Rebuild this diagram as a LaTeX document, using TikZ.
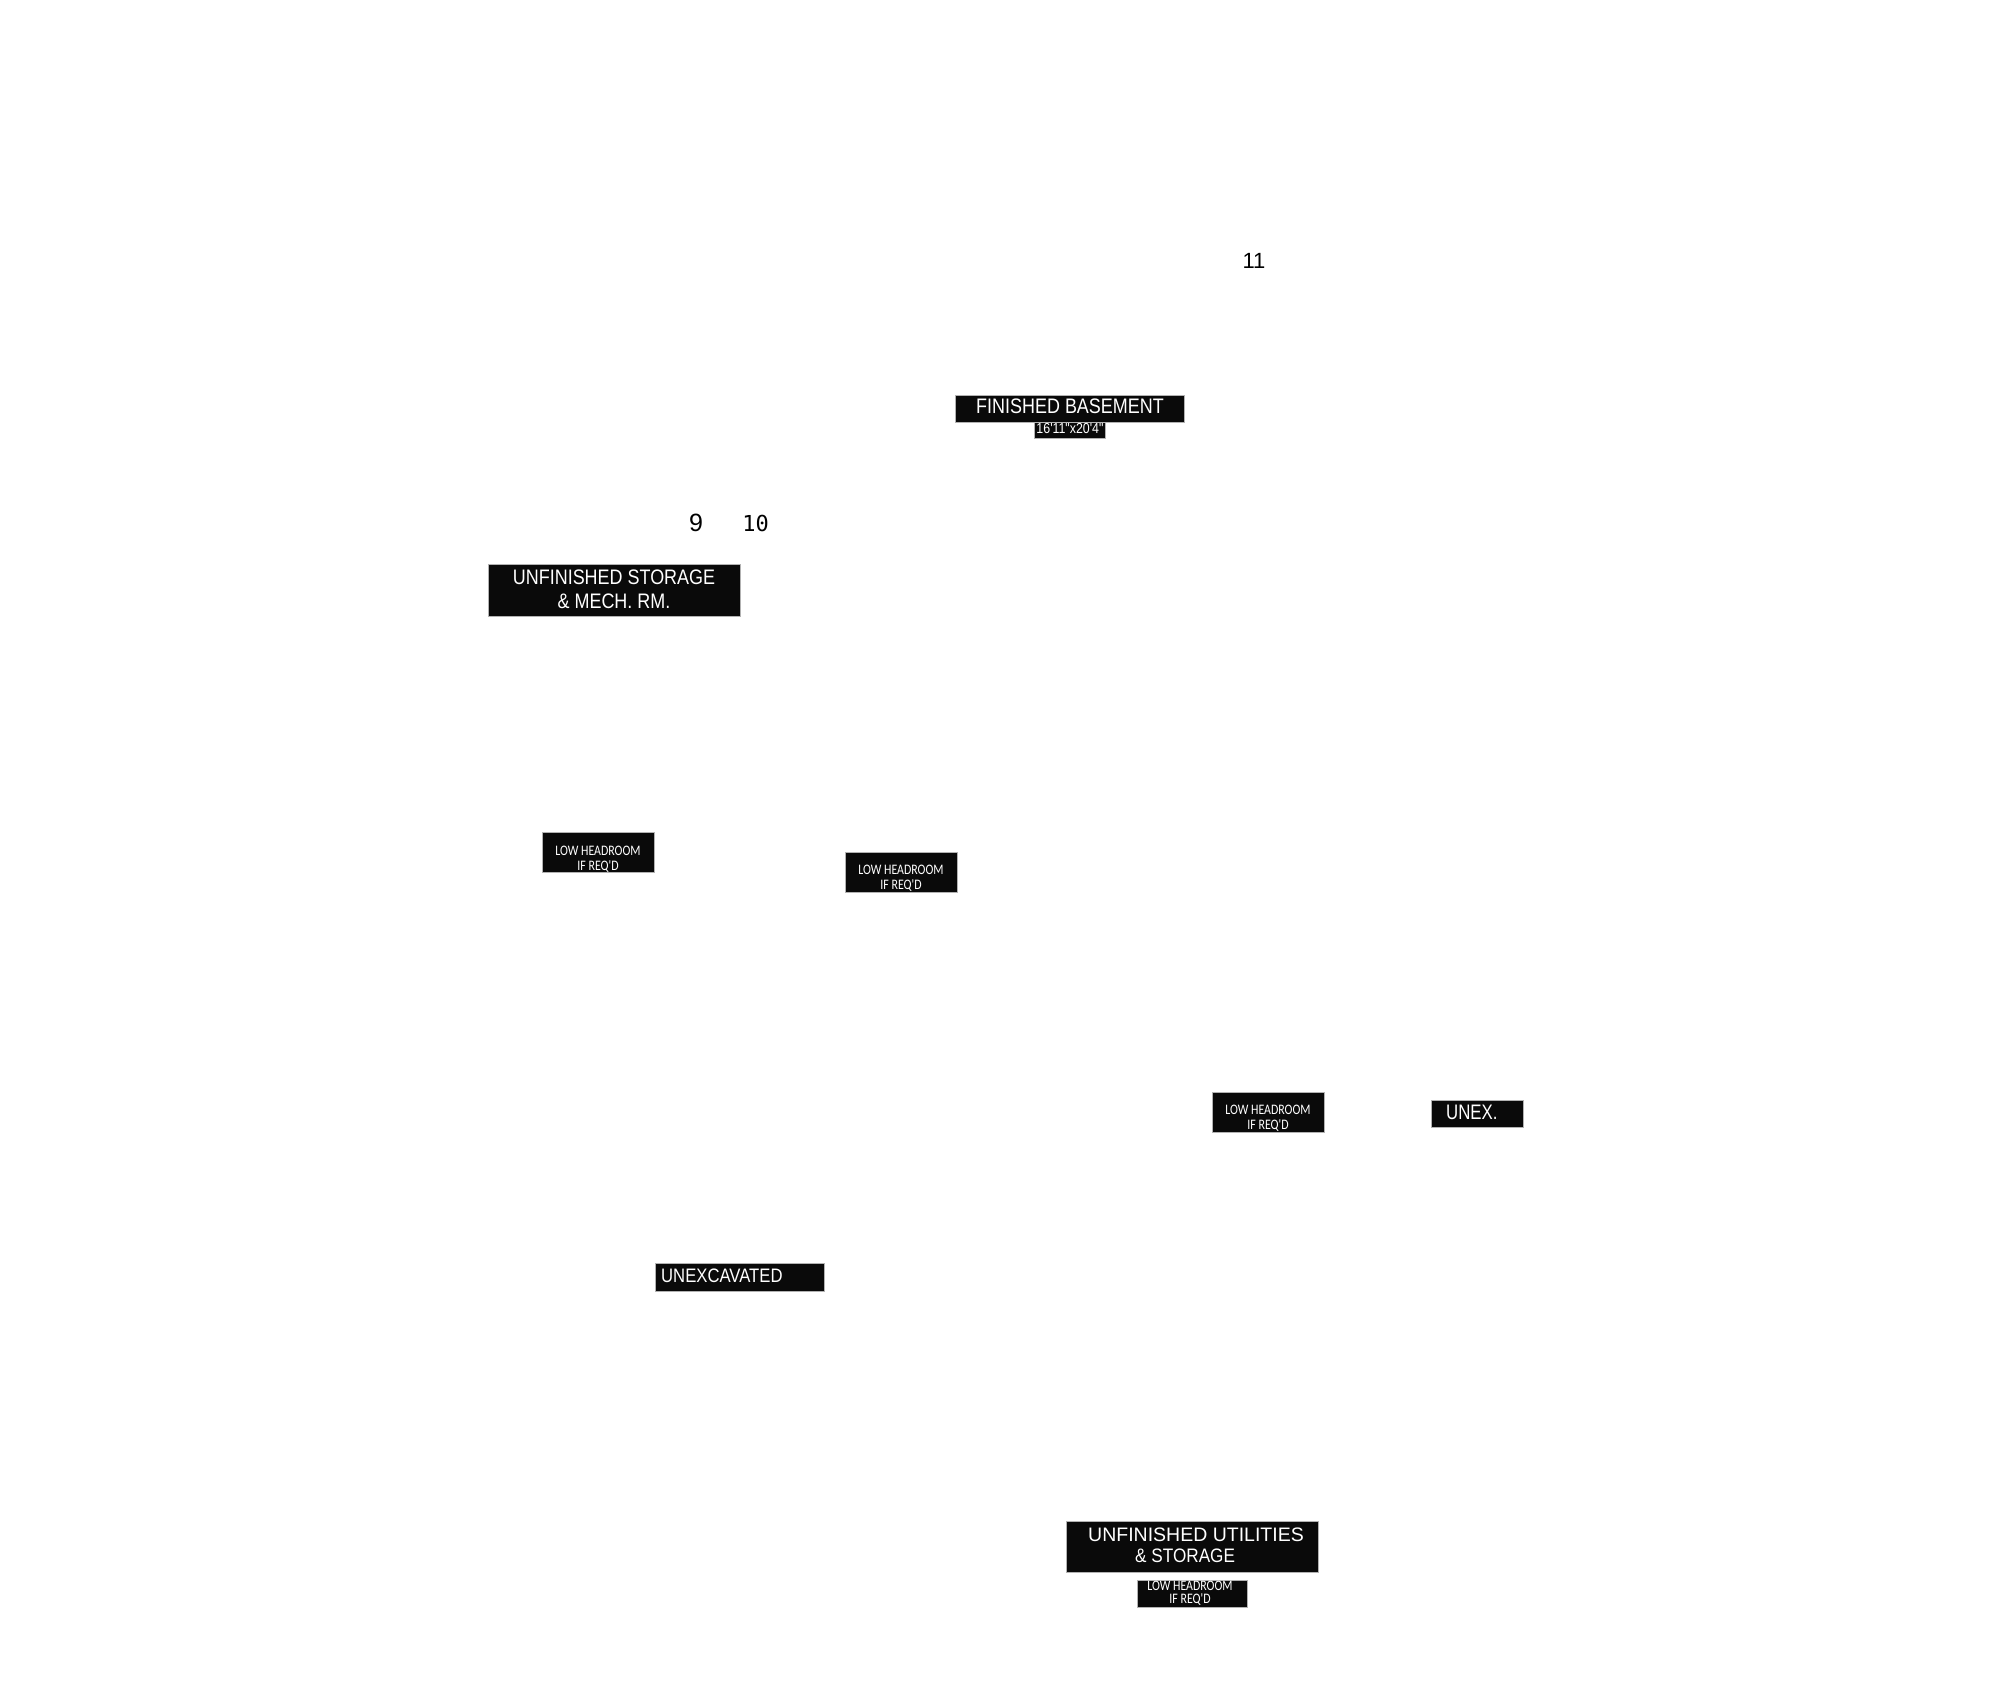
\documentclass[tikz,border=0pt]{standalone}
\usepackage{fontspec}
\setmainfont{Liberation Sans}
\newfontfamily\labA[FakeStretch=0.855]{Liberation Sans}
\newfontfamily\labB[FakeStretch=0.8]{Liberation Sans}
\newfontfamily\labC[FakeStretch=0.88]{Liberation Sans}
\newfontfamily\arialf{Liberation Sans}
\newfontfamily\calibf[FakeStretch=0.82]{Carlito}
\newfontfamily\monof{DejaVu Sans Mono}
\tikzset{
  box/.style={rectangle, fill=black!96, draw=black!30, line width=0.8pt, inner sep=0pt, outer sep=0pt},
  lbl/.style={text=white, inner sep=0pt, anchor=base},
  lbll/.style={text=white, inner sep=0pt, anchor=base west},
  num/.style={text=black, inner sep=0pt, anchor=base},
  big/.style={font=\labA\fontsize{21}{24}\selectfont},
  small/.style={font=\calibf\fontsize{14.5}{16}\selectfont},
}
\begin{document}
\begin{tikzpicture}[x=1pt,y=-1pt]
\useasboundingbox (0,0) rectangle (2000,1706);

% numbers
\node[num, font=\arialf\fontsize{22}{24}\selectfont] (n11) at (1254,268) {11};
\node[num, font=\arialf\fontsize{25}{28}\selectfont] (n9) at (696,531) {9};
\node[num, font=\monof\fontsize{22}{24}\selectfont] (n10) at (755.5,531) {10};

% finished basement
\node[box, minimum width=229pt, minimum height=27pt] (fbbox) at (1069.5,408.5) {};
\node[lbl, big] (fbtext) at (1070,413.5) {FINISHED BASEMENT};
\node[box, minimum width=71pt, minimum height=16pt] (fbsub) at (1069.5,430) {};
\node[lbl, font=\labA\fontsize{14.5}{16}\selectfont] (fbsubt) at (1070,433) {16'11"x20'4"};

% unfinished storage
\node[box, minimum width=252pt, minimum height=52pt] (usbox) at (614,590) {};
\node[lbl, big] (ust1) at (614,584.5) {UNFINISHED STORAGE};
\node[lbl, big] (ust2) at (614,608.5) {\& MECH. RM.};

% low headroom 1
\node[box, minimum width=112pt, minimum height=40pt] (lh1) at (598,852) {};
\node[lbl, small] (lh1a) at (598,855) {LOW HEADROOM};
\node[lbl, small] (lh1b) at (598,870) {IF REQ'D};

% low headroom 2
\node[box, minimum width=112pt, minimum height=40pt] (lh2) at (901,872) {};
\node[lbl, small] (lh2a) at (901,874.5) {LOW HEADROOM};
\node[lbl, small] (lh2b) at (901,889.5) {IF REQ'D};

% low headroom 3
\node[box, minimum width=112pt, minimum height=40pt] (lh3) at (1268,1112) {};
\node[lbl, small] (lh3a) at (1268,1114.5) {LOW HEADROOM};
\node[lbl, small] (lh3b) at (1268,1129.5) {IF REQ'D};

% unex.
\node[box, minimum width=92pt, minimum height=27pt] (unex) at (1477,1113.5) {};
\node[lbll, font=\labB\fontsize{21}{24}\selectfont] (unext) at (1446,1119) {UNEX.};

% unexcavated
\node[box, minimum width=169pt, minimum height=28pt] (unexc) at (739.5,1277) {};
\node[lbll, font=\labA\fontsize{19.5}{22}\selectfont] (unexct) at (661,1282) {UNEXCAVATED};

% unfinished utilities
\node[box, minimum width=252pt, minimum height=51pt] (uubox) at (1192,1546.5) {};
\node[lbll, font=\arialf\fontsize{19.5}{22}\selectfont] (uut1) at (1088,1541) {UNFINISHED UTILITIES};
\node[lbll, font=\labC\fontsize{19.5}{22}\selectfont] (uut2) at (1135,1562) {\& STORAGE};

% low headroom 4 (clipped)
\node[box, minimum width=110pt, minimum height=27pt] (lh4) at (1192,1593.5) {};
\begin{scope}
  \clip (1137,1580) rectangle (1247,1607);
  \node[lbl, small] (lh4a) at (1190,1590) {LOW HEADROOM};
  \node[lbl, small] (lh4b) at (1190,1603) {IF REQ'D};
\end{scope}
\end{tikzpicture}
\end{document}
